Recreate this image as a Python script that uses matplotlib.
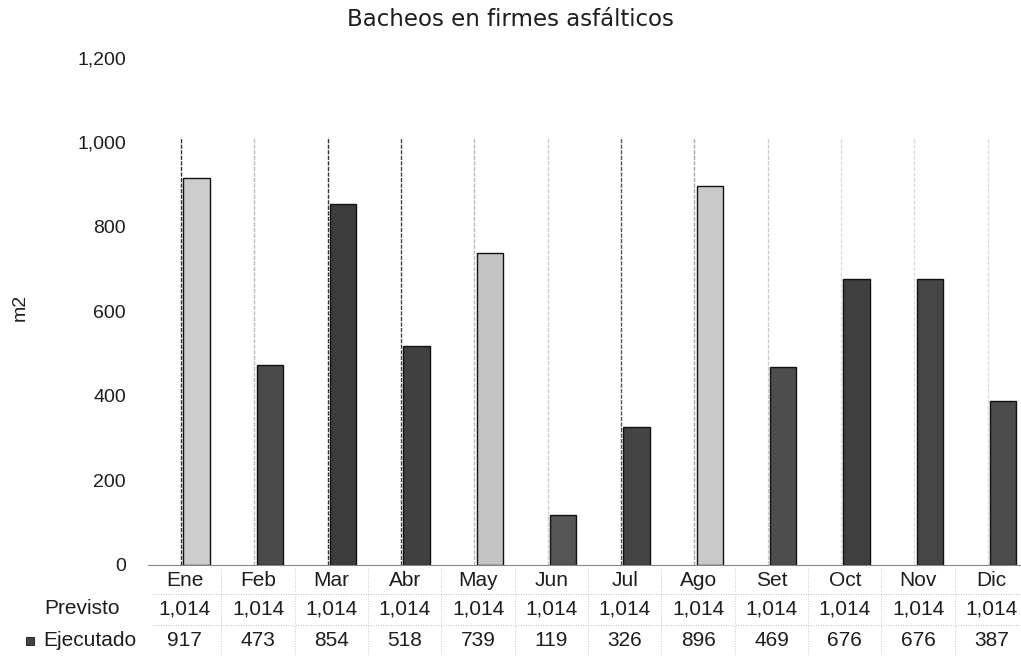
import matplotlib
matplotlib.use("Agg")
import matplotlib.pyplot as plt
import matplotlib.transforms as mtransforms
import numpy as np

months = ["Ene", "Feb", "Mar", "Abr", "May", "Jun", "Jul", "Ago", "Set", "Oct", "Nov", "Dic"]
previsto = [1014, 1014, 1014, 1014, 1014, 1014, 1014, 1014, 1014, 1014, 1014, 1014]
ejecutado = [917, 473, 854, 518, 739, 119, 326, 896, 469, 676, 676, 387]
# shade of each scanned bar (light / dark)
shades = ["#cdcdcd", "#4a4a4a", "#3c3c3c", "#404040", "#c4c4c4", "#555555",
          "#444444", "#c9c9c9", "#4d4d4d", "#3f3f3f", "#454545", "#4b4b4b"]
# how visible the left edge of each (white) Previsto column is in the scan
edge_cols = ["#333333", "#bbbbbb", "#333333", "#444444", "#bbbbbb", "#cccccc",
             "#555555", "#aaaaaa", "#cccccc", "#dddddd", "#dddddd", "#dddddd"]

TXT = '#1e1e1e'
plt.rcParams['font.family'] = ['Liberation Sans', 'DejaVu Sans']

fig = plt.figure(figsize=(10.21, 6.71), dpi=100)
ax = fig.add_axes([0.145, 0.158, 0.862, 0.7556])

x = np.arange(len(months))
w = 0.36
# Previsto columns are white, only a faint left edge shows
ax.bar(x - 0.05, previsto, width=w, align='edge', color='white', linewidth=0, zorder=1)
ax.vlines(x - 0.05, 0, previsto, colors=edge_cols, linewidth=1.0,
          linestyles=(0, (3, 1)), zorder=1.5)
ax.bar(x + 0.16, ejecutado, width=w, color=shades, edgecolor='#111111',
       linewidth=1.0, zorder=2)

ax.set_xlim(-0.5, len(months) - 0.5)
ax.set_ylim(0, 1200)
ax.set_yticks(range(0, 1201, 200))
ax.set_yticklabels(["{:,}".format(v) for v in range(0, 1201, 200)], fontsize=14, color=TXT)
ax.tick_params(axis='y', length=0, pad=16)
ax.set_xticks([])
for s in ["top", "right", "left"]:
    ax.spines[s].set_visible(False)
ax.spines["bottom"].set_color('#888888')
ax.spines["bottom"].set_linestyle((0, (2, 1)))

fig.text(20 / 1021, 1 - 307 / 671, "m2", rotation=90, ha='center', va='center',
         fontsize=14, color=TXT)
fig.text(0.5, 1 - 19 / 671, "Bacheos en firmes asfálticos", ha='center', va='center',
         fontsize=16.5, color=TXT, family='DejaVu Sans')

# data table under the axis
tr = mtransforms.blended_transform_factory(ax.transData, fig.transFigure)
rows_y = [1 - 580 / 671, 1 - 609 / 671, 1 - 641 / 671]
for i, m in enumerate(months):
    ax.text(i, rows_y[0], m, transform=tr, ha='center', va='center', fontsize=15, color=TXT)
    ax.text(i, rows_y[1], "{:,}".format(previsto[i]), transform=tr, ha='center', va='center',
            fontsize=15, color=TXT)
    ax.text(i, rows_y[2], "{:,}".format(ejecutado[i]), transform=tr, ha='center', va='center',
            fontsize=15, color=TXT)
fig.text(82 / 1021, rows_y[1], "Previsto", ha='center', va='center', fontsize=15, color=TXT)
fig.text(90 / 1021, rows_y[2], "Ejecutado", ha='center', va='center', fontsize=15, color=TXT)
fig.patches.append(plt.Rectangle((26 / 1021, rows_y[2] - 0.006), 8 / 1021, 0.012,
                                 transform=fig.transFigure, facecolor='#444444',
                                 edgecolor='#111111', linewidth=0.6))

# faint dotted table lines
for yy in [1 - 594 / 671, 1 - 625 / 671]:
    fig.add_artist(plt.Line2D([0.15, 1.0], [yy, yy], transform=fig.transFigure,
                              color='#aaaaaa', linewidth=0.6, linestyle=(0, (1, 2))))
for i in range(1, len(months)):
    ax.plot([i - 0.5, i - 0.5], [1 - 568 / 671, 1 - 655 / 671], transform=tr,
            color='#bbbbbb', linewidth=0.6, linestyle=(0, (1, 2)), clip_on=False)

fig.savefig("out.png", dpi=100, facecolor='white')
